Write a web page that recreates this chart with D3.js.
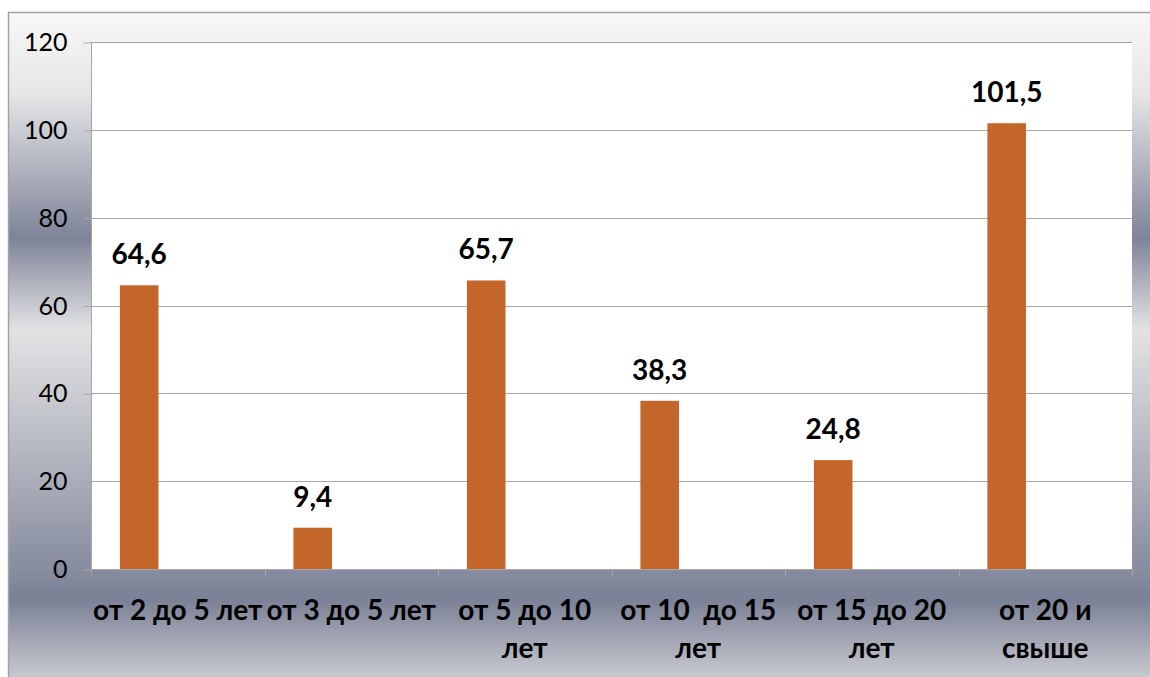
<!DOCTYPE html>
<html>
<head>
<meta charset="utf-8">
<script src="https://cdn.jsdelivr.net/npm/d3@7"></script>
<style>
  html, body { margin: 0; padding: 0; background: #ffffff; }
  svg { display: block; }
</style>
</head>
<body>
<svg id="chart" width="1150" height="677"></svg>
<script>
// ---- data ----
const categories = ["от 2 до 5 лет", "от 3 до 5 лет", "от 5 до 10\nлет", "от 10  до 15\nлет", "от 15 до 20\nлет", "от 20 и\nсвыше"];
const values = [64.6, 9.4, 65.7, 38.3, 24.8, 101.5];
const seriesSlots = ["Ряд 1", "Ряд 2", "Ряд 3"];
const yTicks = [0, 20, 40, 60, 80, 100, 120];

const svg = d3.select("#chart");
const W = 1150, H = 677;
const plot = { left: 91, right: 1132, top: 42, bottom: 569 };

// background gradient
const defs = svg.append("defs");
const grad = defs.append("linearGradient").attr("id", "bg")
  .attr("x1", 0).attr("y1", 0).attr("x2", 0).attr("y2", 1);
[[0, "#f8f8f8"], [0.12, "#e6e6e8"], [0.334, "#7e8498"], [0.47, "#e3e3e5"], [0.6, "#c2c4cb"], [0.87, "#7b8196"], [1, "#d2d3d8"]]
  .forEach(([o, c]) => grad.append("stop").attr("offset", o).attr("stop-color", c));

svg.append("rect").attr("x", 8.5).attr("y", 12.5).attr("width", W + 10).attr("height", H - 12 + 10)
  .attr("fill", "url(#bg)").attr("stroke", "#a3a3a3").attr("stroke-width", 1.5);

svg.append("rect").attr("x", plot.left).attr("y", plot.top)
  .attr("width", plot.right - plot.left).attr("height", plot.bottom - plot.top)
  .attr("fill", "#ffffff");

const y = d3.scaleLinear().domain([0, 120]).range([plot.bottom, plot.top]);
const x = d3.scaleBand().domain(categories).range([plot.left, plot.right]).padding(0);
const xs = d3.scaleBand().domain(seriesSlots).range([0, x.bandwidth()]).paddingInner(0).paddingOuter(0.75);

// gridlines
svg.append("g").selectAll("line").data(yTicks.filter(t => t > 0)).join("line")
  .attr("x1", plot.left).attr("x2", plot.right)
  .attr("y1", d => Math.round(y(d)) + 0.5).attr("y2", d => Math.round(y(d)) + 0.5)
  .attr("stroke", "#a6a6a6").attr("stroke-width", 1);

// y axis
const yAxis = d3.axisLeft(y).tickValues(yTicks).tickSize(8).tickPadding(16).tickFormat(d3.format("d"));
const gy = svg.append("g").attr("transform", `translate(${plot.left + 0.5},0.5)`).call(yAxis);
gy.select(".domain").attr("stroke", "#a6a6a6").attr("d", `M0,${y(120)}V${y(0)}`);
gy.selectAll(".tick line").attr("stroke", "#a6a6a6");
gy.selectAll(".tick text").attr("font-family", "Lato, 'Open Sans', sans-serif")
  .attr("font-size", 25).attr("fill", "#000");

// bars
svg.append("g").selectAll("rect").data(values).join("rect")
  .attr("x", (d, i) => x(categories[i]) + xs(seriesSlots[0]))
  .attr("width", xs.bandwidth())
  .attr("y", d => y(d))
  .attr("height", d => y(0) - y(d))
  .attr("fill", "#c4652a");

// x axis
const gx = svg.append("g").attr("transform", `translate(0,${plot.bottom + 0.5})`);
gx.append("line").attr("x1", plot.left).attr("x2", plot.right).attr("stroke", "#a6a6a6");
const bounds = categories.map(c => x(c)).concat([plot.right]);
gx.selectAll("line.tk").data(bounds).join("line").attr("class", "tk")
  .attr("x1", d => Math.round(d) + 0.5).attr("x2", d => Math.round(d) + 0.5)
  .attr("y1", 0).attr("y2", 7).attr("stroke", "#a6a6a6");

const lab = svg.append("g").selectAll("text").data(categories).join("text")
  .attr("x", d => x(d) + x.bandwidth() / 2)
  .attr("y", 620)
  .attr("text-anchor", "middle")
  .attr("font-family", "Lato, 'Open Sans', sans-serif")
  .attr("font-weight", "bold").attr("font-size", 28).attr("fill", "#000");
lab.each(function (d) {
  const t = d3.select(this);
  d.split("\n").forEach((line, k) => {
    t.append("tspan").attr("x", x(d) + x.bandwidth() / 2).attr("dy", k === 0 ? 0 : 38)
      .attr("xml:space", "preserve").style("white-space", "pre").text(line);
  });
});

// data labels
svg.append("g").selectAll("text").data(values).join("text")
  .attr("x", (d, i) => x(categories[i]) + xs(seriesSlots[0]) + xs.bandwidth() / 2)
  .attr("y", d => y(d) - 21)
  .attr("text-anchor", "middle")
  .attr("font-family", "Lato, 'Open Sans', sans-serif")
  .attr("font-weight", "bold").attr("font-size", 28).attr("fill", "#000")
  .text(d => d3.format(".1f")(d).replace(".", ","));
</script>
</body>
</html>
